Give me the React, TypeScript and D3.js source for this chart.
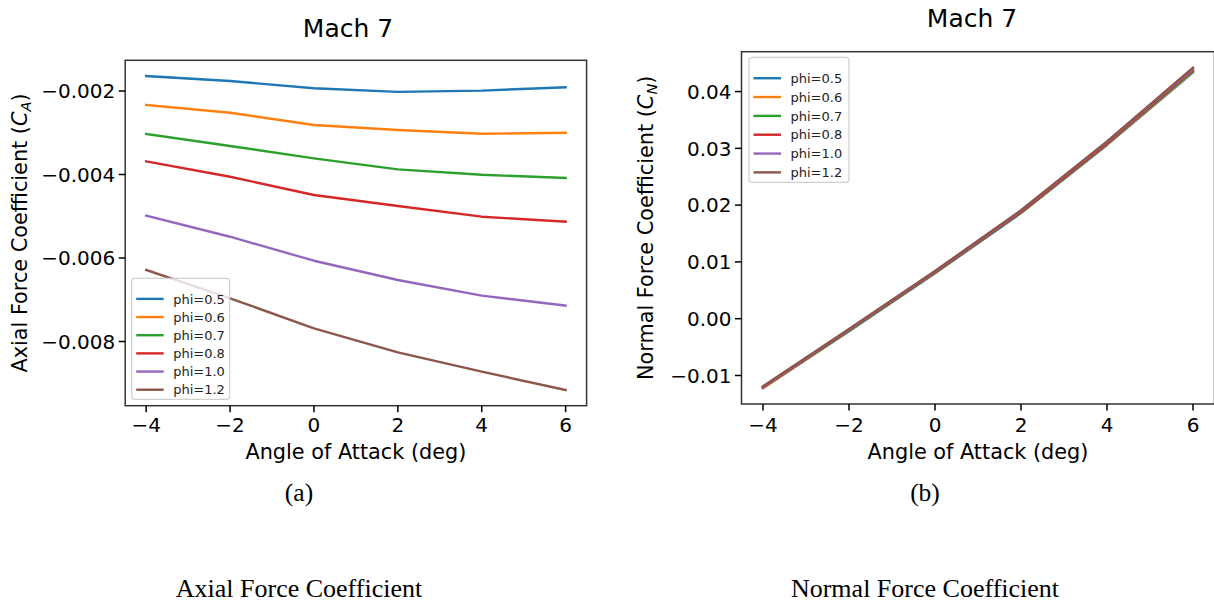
import React from "react";
import * as d3 from "d3";

// Angle of attack sweep (deg)
const angles = [-4, -2, 0, 2, 4, 6];
const phiLabels = ["phi=0.5", "phi=0.6", "phi=0.7", "phi=0.8", "phi=1.0", "phi=1.2"];
const colors = ["#1f77b4", "#ff7f0e", "#2ca02c", "#d62728", "#9467bd", "#8c564b"];

// Axial force coefficient C_A per equivalence ratio
const axialPhi05 = [-0.00164, -0.00176, -0.001935, -0.00202, -0.00199, -0.00191];
const axialPhi06 = [-0.002335, -0.00252, -0.002814, -0.002934, -0.003023, -0.003];
const axialPhi07 = [-0.00303, -0.003317, -0.003612, -0.003876, -0.004005, -0.004084];
const axialPhi08 = [-0.003684, -0.004053, -0.004491, -0.004754, -0.00501, -0.00513];
const axialPhi10 = [-0.004987, -0.00549, -0.006065, -0.006527, -0.0069, -0.00714];
const axialPhi12 = [-0.006287, -0.006966, -0.007684, -0.00826, -0.008723, -0.009162];

// Normal force coefficient C_N per equivalence ratio
const normalPhi05 = [-0.0122, -0.0022, 0.008, 0.0186, 0.0306, 0.0434];
const normalPhi06 = [-0.0122, -0.0021, 0.0081, 0.0187, 0.0307, 0.0435];
const normalPhi07 = [-0.0121, -0.0021, 0.0081, 0.0187, 0.0308, 0.0436];
const normalPhi08 = [-0.0121, -0.002, 0.0082, 0.0188, 0.0309, 0.0438];
const normalPhi10 = [-0.012, -0.0019, 0.0083, 0.019, 0.0311, 0.044];
const normalPhi12 = [-0.0119, -0.0018, 0.0084, 0.0191, 0.0312, 0.0442];

const xTicks = [-4, -2, 0, 2, 4, 6];
const axialTicks = [-0.008, -0.006, -0.004, -0.002];
const normalTicks = [-0.01, 0.0, 0.01, 0.02, 0.03, 0.04];

const FONT = "DejaVu Sans, sans-serif";
const SERIF = "Liberation Serif, Times New Roman, serif";

type Panel = {
  series: number[][];
  yTicks: number[];
  yFmt: string;
  box: { x0: number; x1: number; y0: number; y1: number };
  titleX: number;
  titleY: number;
  yLabelMain: string;
  yLabelSym: string;
  yLabelSub: string;
  yLabelX: number;
  legend: { x: number; y: number; w: number; h: number };
  caption: string;
  captionTag: string;
  captionX: number;
};

const panels: Panel[] = [
  {
    series: [axialPhi05, axialPhi06, axialPhi07, axialPhi08, axialPhi10, axialPhi12],
    yTicks: axialTicks,
    yFmt: ".3f",
    box: { x0: 125.2, x1: 586.6, y0: 60.3, y1: 405.7 },
    titleX: 348,
    titleY: 37,
    yLabelMain: "Axial Force Coefficient (",
    yLabelSym: "C",
    yLabelSub: "A",
    yLabelX: 27,
    legend: { x: 131.7, y: 278.3, w: 98, h: 121 },
    caption: "Axial Force Coefficient",
    captionTag: "(a)",
    captionX: 299,
  },
  {
    series: [normalPhi05, normalPhi06, normalPhi07, normalPhi08, normalPhi10, normalPhi12],
    yTicks: normalTicks,
    yFmt: ".2f",
    box: { x0: 741.5, x1: 1214.5, y0: 51.7, y1: 404 },
    titleX: 972,
    titleY: 27,
    yLabelMain: "Normal Force Coefficient (",
    yLabelSym: "C",
    yLabelSub: "N",
    yLabelX: 653,
    legend: { x: 749, y: 57.3, w: 100, h: 125 },
    caption: "Normal Force Coefficient",
    captionTag: "(b)",
    captionX: 925,
  },
];

function padded(vals: number[]): [number, number] {
  const [lo, hi] = d3.extent(vals) as [number, number];
  const m = (hi - lo) * 0.05;
  return [lo - m, hi + m];
}

function PanelView({ p }: { p: Panel }) {
  const { box } = p;
  const x = d3.scaleLinear().domain(padded(angles)).range([box.x0, box.x1]);
  const y = d3.scaleLinear().domain(padded(p.series.flat())).range([box.y1, box.y0]);
  const line = d3
    .line<number>()
    .x((_, i) => x(angles[i]))
    .y((v) => y(v));
  const fmtY = d3.format(p.yFmt);
  const fmtX = d3.format("d");
  const tickLen = 6.5;
  const lg = p.legend;
  const rowH = (lg.h - 12) / phiLabels.length;
  const cx = (box.x0 + box.x1) / 2;
  const cy = (box.y0 + box.y1) / 2;

  return (
    <g>
      <text x={p.titleX} y={p.titleY} textAnchor="middle" fontFamily={FONT} fontSize={25} fill="#000">
        Mach 7
      </text>
      <defs>
        <clipPath id={`clip-${p.captionTag}`}>
          <rect x={box.x0} y={box.y0} width={box.x1 - box.x0} height={box.y1 - box.y0} />
        </clipPath>
      </defs>
      <g clipPath={`url(#clip-${p.captionTag})`}>
        {p.series.map((s, i) => (
          <path key={i} d={line(s) || ""} fill="none" stroke={colors[i]} strokeWidth={2.4} strokeLinejoin="round" strokeLinecap="square" />
        ))}
      </g>
      <rect x={box.x0} y={box.y0} width={box.x1 - box.x0} height={box.y1 - box.y0} fill="none" stroke="#333" strokeWidth={1.5} />
      {xTicks.map((t) => (
        <g key={`x${t}`}>
          <line x1={x(t)} x2={x(t)} y1={box.y1} y2={box.y1 + tickLen} stroke="#000" strokeWidth={1.5} />
          <text x={x(t)} y={432} textAnchor="middle" fontFamily={FONT} fontSize={20} fill="#000">
            {fmtX(t)}
          </text>
        </g>
      ))}
      {p.yTicks.map((t) => (
        <g key={`y${t}`}>
          <line x1={box.x0 - tickLen} x2={box.x0} y1={y(t)} y2={y(t)} stroke="#000" strokeWidth={1.5} />
          <text x={box.x0 - 10} y={y(t)} dy="0.36em" textAnchor="end" fontFamily={FONT} fontSize={20} fill="#000">
            {fmtY(t)}
          </text>
        </g>
      ))}
      <text x={cx} y={459} textAnchor="middle" fontFamily={FONT} fontSize={20.8} fill="#000">
        Angle of Attack (deg)
      </text>
      <text
        transform={`translate(${p.yLabelX},${cy}) rotate(-90)`}
        textAnchor="middle"
        fontFamily={FONT}
        fontSize={20.8}
        fill="#000"
      >
        {p.yLabelMain}
        <tspan fontStyle="italic">{p.yLabelSym}</tspan>
        <tspan fontStyle="italic" fontSize={14.5} dy={3.5}>
          {p.yLabelSub}
        </tspan>
        <tspan dy={-3.5}>)</tspan>
      </text>
      <rect x={lg.x} y={lg.y} width={lg.w} height={lg.h} rx={3} fill="#fff" fillOpacity={0.8} stroke="#d0d0d0" strokeWidth={1.2} />
      {phiLabels.map((lab, i) => {
        const ry = lg.y + 11.5 + rowH * (i + 0.5);
        return (
          <g key={lab}>
            <line x1={lg.x + 4.5} x2={lg.x + 32} y1={ry} y2={ry} stroke={colors[i]} strokeWidth={2.4} />
            <text x={lg.x + 41.5} y={ry} dy="0.36em" fontFamily={FONT} fontSize={13} fill="#222">
              {lab}
            </text>
          </g>
        );
      })}
      <text x={p.captionX} y={501} textAnchor="middle" fontFamily={SERIF} fontSize={25.5} fill="#000">
        {p.captionTag}
      </text>
      <text x={p.captionX} y={597} textAnchor="middle" fontFamily={SERIF} fontSize={26} fill="#000">
        {p.caption}
      </text>
    </g>
  );
}

export default function App() {
  return (
    <svg width={1214} height={603} style={{ position: "absolute", left: 0, top: 0, background: "#fff" }}>
      <rect width={1214} height={603} fill="#fff" />
      {panels.map((p) => (
        <PanelView key={p.captionTag} p={p} />
      ))}
    </svg>
  );
}
